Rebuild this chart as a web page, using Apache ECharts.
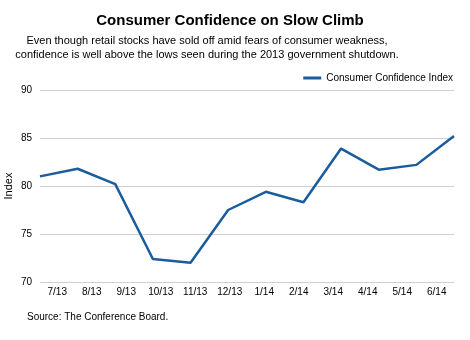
<!DOCTYPE html>
<html>
<head>
<meta charset="utf-8">
<script src="https://cdn.jsdelivr.net/npm/echarts@6/dist/echarts.min.js"></script>
<style>
  html, body { margin: 0; padding: 0; background: #fff; }
  #chart { width: 470px; height: 340px; }
</style>
</head>
<body>
<div id="chart"></div>
<script>
  const months = ['7/13', '8/13', '9/13', '10/13', '11/13', '12/13', '1/14', '2/14', '3/14', '4/14', '5/14', '6/14']
  const confidence = [81.0, 81.8, 80.2, 72.4, 72.0, 77.5, 79.4, 78.3, 83.9, 81.7, 82.2, 85.2]
  const seriesName = 'Consumer Confidence Index'

  const font = '"Liberation Sans", Arial, sans-serif'
  const chart = echarts.init(document.getElementById('chart'))

  const subStyle = { fontFamily: font, fontSize: 11, fontWeight: 'normal', color: '#000' }

  chart.setOption({
    animation: false,
    title: [
      {
        text: 'Consumer Confidence on Slow Climb',
        left: 225,
        top: 8,
        textAlign: 'center',
        textStyle: { fontFamily: font, fontSize: 15, fontWeight: 'bold', color: '#000' }
      },
      {
        text: 'Even though retail stocks have sold off amid fears of consumer weakness,',
        left: 202,
        top: 30,
        textAlign: 'center',
        textStyle: subStyle
      },
      {
        text: 'confidence is well above the lows seen during the 2013 government shutdown.',
        left: 202,
        top: 44,
        textAlign: 'center',
        textStyle: subStyle
      },
      {
        text: 'Source: The Conference Board.',
        left: 22,
        top: 307,
        textStyle: { fontFamily: font, fontSize: 10, fontWeight: 'normal', color: '#000' }
      }
    ],
    legend: {
      data: [seriesName],
      right: 12,
      top: 68,
      itemWidth: 18,
      itemHeight: 3,
      itemGap: 4,
      icon: 'rect',
      textStyle: { fontFamily: font, fontSize: 10, color: '#000' }
    },
    grid: { left: 40, right: 16, top: 90, bottom: 58, outerBoundsMode: 'none' },
    xAxis: [
      {
        // labels sit in the middle of each month band
        type: 'category',
        data: months,
        boundaryGap: true,
        axisLine: { show: false },
        axisTick: { show: false },
        axisLabel: { fontFamily: font, fontSize: 10, color: '#000', margin: 5, interval: 0 }
      },
      {
        // the line itself runs edge to edge
        type: 'category',
        data: months,
        boundaryGap: false,
        position: 'bottom',
        show: false
      }
    ],
    yAxis: {
      type: 'value',
      min: 70,
      max: 90,
      interval: 5,
      name: 'Index',
      nameLocation: 'middle',
      nameGap: 26,
      nameMoveOverlap: false,
      nameTextStyle: { fontFamily: font, fontSize: 11, color: '#000' },
      axisLine: { show: false },
      axisTick: { show: false },
      axisLabel: { fontFamily: font, fontSize: 10, color: '#000', margin: 8 },
      splitLine: { lineStyle: { color: '#d0d0d0', width: 1 } }
    },
    series: [
      {
        name: seriesName,
        type: 'line',
        xAxisIndex: 1,
        data: confidence,
        symbol: 'none',
        lineStyle: { color: '#1b5c9e', width: 2.5 },
        itemStyle: { color: '#1b5c9e' }
      }
    ]
  })
</script>
</body>
</html>
